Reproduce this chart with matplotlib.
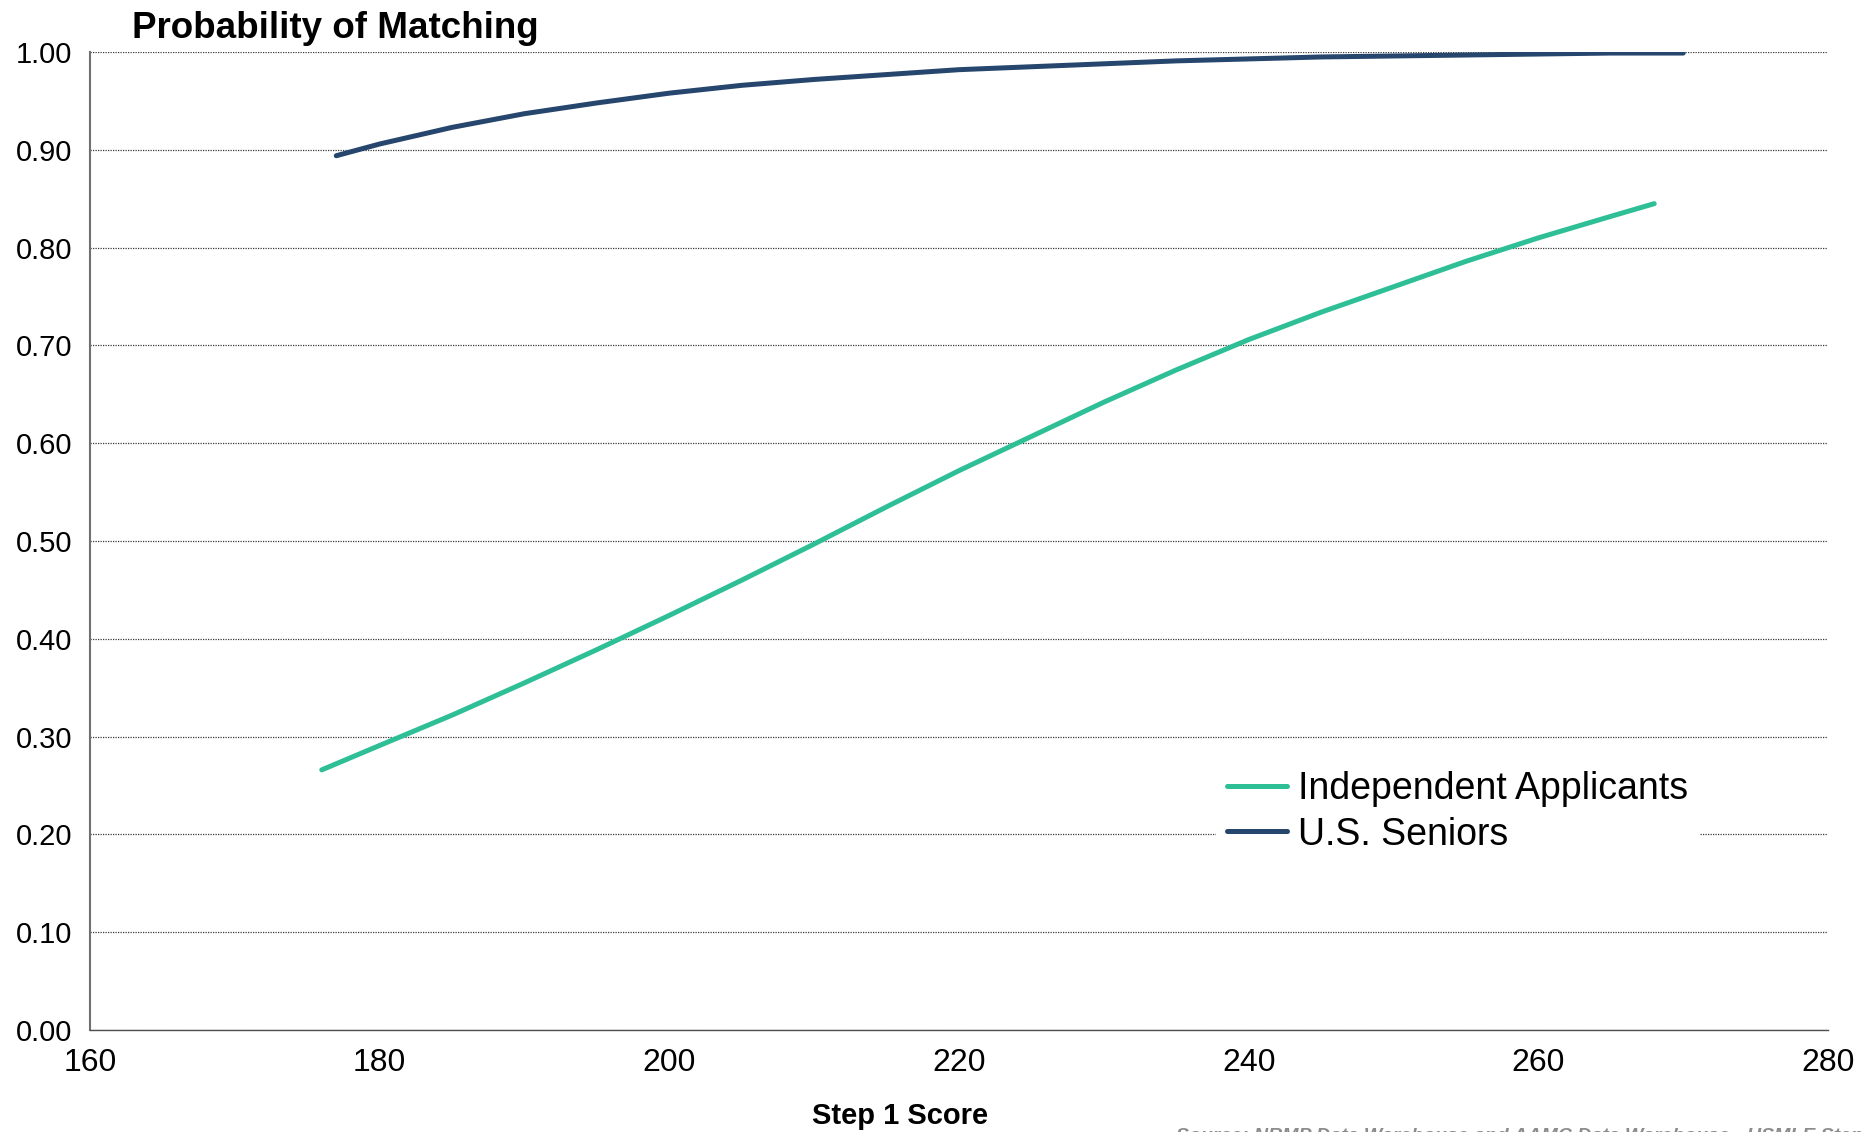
import matplotlib.pyplot as plt
import numpy as np

# Step 1 score vs probability of matching
score_ind = [176, 180, 185, 190, 195, 200, 205, 210, 215, 220, 225, 230,
             235, 240, 245, 250, 255, 260, 265, 268]
prob_ind = [0.266, 0.291, 0.322, 0.355, 0.389, 0.424, 0.460, 0.497, 0.535, 0.572,
            0.607, 0.642, 0.675, 0.706, 0.734, 0.760, 0.786, 0.810, 0.832, 0.845]

score_sen = [177, 180, 185, 190, 195, 200, 205, 210, 215, 220, 225, 230,
             235, 240, 245, 250, 255, 260, 265, 270]
prob_sen = [0.894, 0.906, 0.923, 0.937, 0.948, 0.958, 0.966, 0.972, 0.977, 0.982,
            0.985, 0.988, 0.991, 0.993, 0.995, 0.996, 0.997, 0.998, 0.999, 0.999]

xticks = [160, 180, 200, 220, 240, 260, 280]
yticks = np.round(np.arange(0, 1.01, 0.1), 1)

plt.rcParams['font.family'] = ['Liberation Sans', 'DejaVu Sans']

fig = plt.figure(figsize=(18.64, 11.32), dpi=100)
ax = fig.add_axes([0.0483, 0.0901, 0.9324, 0.8639])

ax.plot(score_ind, prob_ind, color='#2fbf97', lw=3.6, solid_capstyle='round',
        solid_joinstyle='round', label='Independent Applicants')
ax.plot(score_sen, prob_sen, color='#26466e', lw=3.6, solid_capstyle='round',
        solid_joinstyle='round', label='U.S. Seniors')

ax.set_xlim(160, 280)
ax.set_ylim(0, 1.0)
ax.set_xticks(xticks)
ax.set_yticks(yticks)
ax.set_yticklabels([f'{v:.2f}' for v in yticks], fontsize=21)
ax.set_xticklabels([str(v) for v in xticks], fontsize=23)
ax.tick_params(axis='both', length=0)
ax.tick_params(axis='y', pad=13)
ax.tick_params(axis='x', pad=13)

# dotted horizontal grid
ax.yaxis.grid(True, linestyle=(0, (1, 1)), color='#3a3a3a', lw=0.9)
ax.set_axisbelow(True)
for s in ['top', 'right']:
    ax.spines[s].set_visible(False)
ax.spines['left'].set_color('#707070')
ax.spines['left'].set_linewidth(1.5)
ax.spines['bottom'].set_color('#505050')
ax.spines['bottom'].set_linewidth(1.0)

leg = ax.legend(loc='center', bbox_to_anchor=(0.787, 0.223), fontsize=27,
                frameon=True, facecolor='white', edgecolor='none', framealpha=1,
                handlelength=1.6, handletextpad=0.3, labelspacing=0.25,
                borderpad=0.3, borderaxespad=0, fancybox=False)

fig.text(0.0708, 0.975, 'Probability of Matching', fontsize=26.5, fontweight='bold',
         va='center', ha='left')
fig.text(0.483, 0.014, 'Step 1 Score', fontsize=21, fontweight='bold',
         ha='center', va='center')
fig.text(0.631, 0.0035, 'Source: NRMP Data Warehouse and AAMC Data Warehouse - USMLE Step 1 Scores',
         fontsize=14, fontweight='bold', style='italic', color='#8c8c8c',
         ha='left', va='top')

fig.savefig('out.png', dpi=100)
